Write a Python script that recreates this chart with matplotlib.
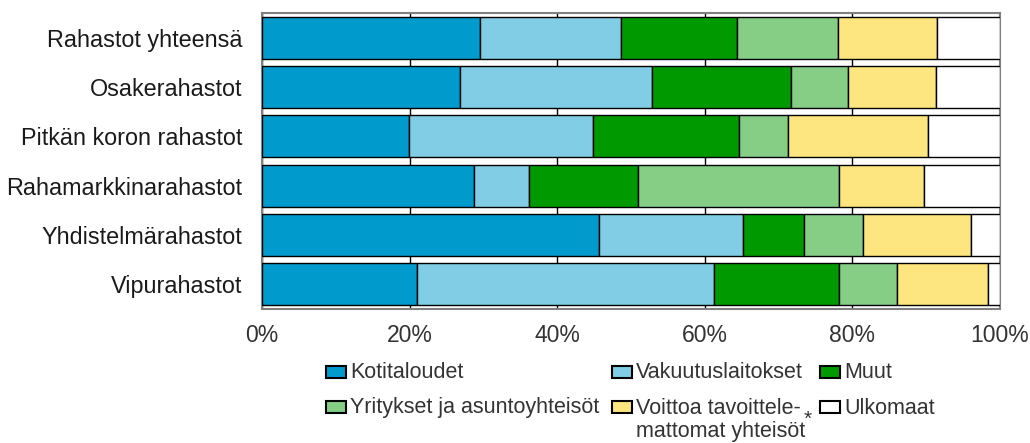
import matplotlib.pyplot as plt
from matplotlib.patches import Rectangle
import numpy as np

plt.rcParams['font.family'] = ['Liberation Sans', 'DejaVu Sans']

rahastot = ['Rahastot yhteensä', 'Osakerahastot', 'Pitkän koron rahastot',
            'Rahamarkkinarahastot', 'Yhdistelmärahastot', 'Vipurahastot']
sektorit = ['Kotitaloudet', 'Vakuutuslaitokset', 'Muut',
            'Yritykset ja asuntoyhteisöt',
            'Voittoa tavoittele-\nmattomat yhteisöt', 'Ulkomaat']
kotitaloudet = [29.5, 26.8, 19.9, 28.7, 45.6, 21.0]
vakuutus = [19.2, 26.1, 25.0, 7.5, 19.6, 40.2]
muut = [15.7, 18.8, 19.7, 14.7, 8.3, 17.0]
yritykset = [13.6, 7.7, 6.7, 27.3, 7.9, 7.9]
voittoa = [13.5, 11.9, 18.9, 11.5, 14.7, 12.3]
ulkomaat = [8.5, 8.7, 9.8, 10.3, 3.9, 1.6]
varit = ['#009ACD', '#82CDE6', '#009900', '#86CD86', '#FDE57F', '#FFFFFF']

sarjat = [kotitaloudet, vakuutus, muut, yritykset, voittoa, ulkomaat]

W, H = 1030, 443
fig = plt.figure(figsize=(W / 100, H / 100), dpi=100)
ax = fig.add_axes([262 / W, 1 - 309 / H, 738 / W, 296 / H])

y = np.arange(len(rahastot))
vasen = np.zeros(len(rahastot))
for arvot, vari in zip(sarjat, varit):
    ax.barh(y, arvot, left=vasen, height=0.85, color=vari,
            edgecolor='black', linewidth=1, zorder=3)
    vasen = vasen + np.array(arvot)

ax.set_xlim(0, 100)
ax.set_ylim(5.5, -0.5)
ax.set_yticks(y)
ax.set_yticklabels(rahastot, fontsize=16.8, color='#1a1a1a')
ax.set_xticks([0, 20, 40, 60, 80, 100])
ax.set_xticklabels(['0%', '20%', '40%', '60%', '80%', '100%'],
                   fontsize=16.5, color='#333333')
ax.tick_params(axis='y', length=0, pad=14)
ax.tick_params(axis='x', length=0, pad=11)
ax.grid(axis='x', color='black', linewidth=1, zorder=0)
for s in ax.spines.values():
    s.set_color('#808080')
    s.set_linewidth(1.5)

# selite käsin: 3 saraketta, 2 riviä
sarake_x = [326, 612, 820]
rivi_y = [372, 407]
for i, (nimi, vari) in enumerate(zip(sektorit, varit)):
    px = sarake_x[i % 3]
    py = rivi_y[i // 3]
    fig.patches.append(Rectangle(((px) / W, 1 - (py + 6) / H), 20 / W, 12 / H,
                                 transform=fig.transFigure, facecolor=vari,
                                 edgecolor='black', linewidth=1.5))
    rivit = nimi.split('\n')
    for k, r in enumerate(rivit):
        fig.text((px + 24) / W, 1 - (py + 1 + 24 * k) / H, r, fontsize=15.5,
                 color='#333333', ha='left', va='center')
fig.text(804 / W, 1 - 419 / H, '*', fontsize=15, color='#333333',
         ha='left', va='center')

fig.savefig('out.png', dpi=100)
